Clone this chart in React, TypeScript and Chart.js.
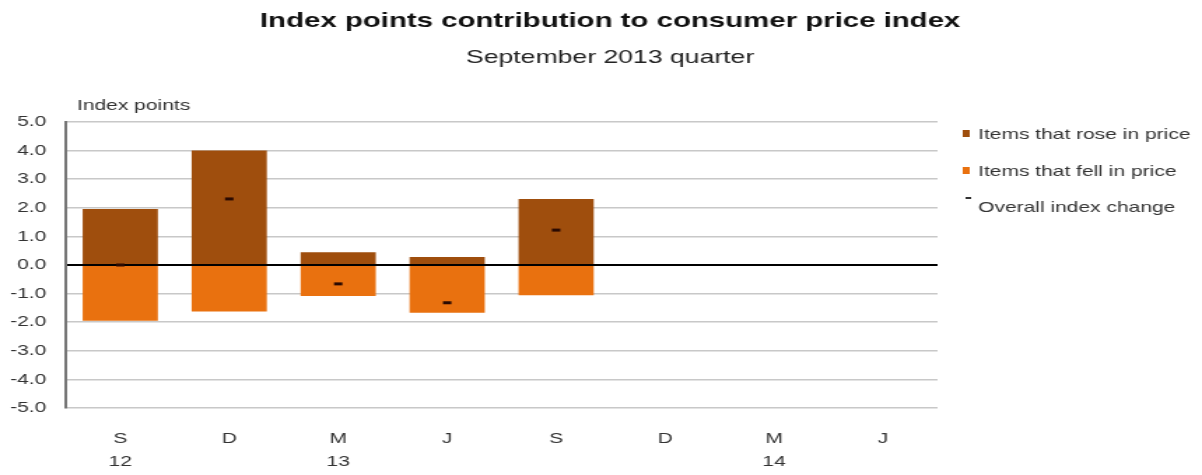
import React, { useEffect, useRef } from "react";
import { Chart, registerables } from "chart.js";

Chart.register(...registerables);

const categories: string[][] = [["S", "12"], ["D"], ["M", "13"], ["J"], ["S"], ["D"], ["M", "14"], ["J"]];
const roseValues: (number | null)[] = [1.96, 4.0, 0.45, 0.28, 2.31, null, null, null];
const fellValues: (number | null)[] = [-1.95, -1.63, -1.08, -1.67, -1.06, null, null, null];
const overallValues: (number | null)[] = [0.0, 2.31, -0.66, -1.32, 1.22, null, null, null];
const legendLabels = ["Items that rose in price", "Items that fell in price", "Overall index change"];
const titleText = "Index points contribution to consumer price index";
const subtitleText = "September 2013 quarter";
const yAxisLabel = "Index points";

const ROSE = "#9f4e0d";
const FELL = "#e9710f";
const MARK = "#2a0a02";
const FONT = "'Liberation Sans', Arial, sans-serif";

// The reference is stretched horizontally; draw narrower and stretch.
const OUT_W = 1202;
const CANVAS_W = 859;
const H = 475;
const STRETCH = OUT_W / CANVAS_W;

const decor = {
  id: "decor",
  afterDraw(chart: any) {
    const ctx = chart.ctx;
    ctx.save();
    ctx.textAlign = "center";
    ctx.textBaseline = "middle";
    ctx.fillStyle = "#111";
    ctx.font = `bold 21px ${FONT}`;
    ctx.fillText(titleText, 436, 21);
    ctx.fillStyle = "#222";
    ctx.font = `19px ${FONT}`;
    ctx.fillText(subtitleText, 436, 58);
    ctx.textAlign = "left";
    ctx.fillStyle = "#333";
    ctx.font = `15px ${FONT}`;
    ctx.fillText(yAxisLabel, 55, 106);
    // legend
    ctx.font = `15px ${FONT}`;
    const ys = [135, 172, 208];
    const sx = 688;
    const tx = 699;
    legendLabels.forEach((t, i) => {
      const y = ys[i];
      if (i === 0) {
        ctx.fillStyle = ROSE;
        ctx.fillRect(sx, y - 5, 5, 7);
      } else if (i === 1) {
        ctx.fillStyle = FELL;
        ctx.fillRect(sx, y - 5, 5, 7);
      } else {
        ctx.fillStyle = "#333";
        ctx.fillRect(sx + 2, y - 11, 4, 2);
      }
      ctx.fillStyle = "#333";
      ctx.fillText(t, tx, y);
    });
    ctx.restore();
  },
};

export default function App() {
  const ref = useRef<HTMLCanvasElement | null>(null);
  useEffect(() => {
    document.body.style.margin = "0";
    const chart = new Chart(ref.current as HTMLCanvasElement, {
      type: "bar",
      data: {
        labels: categories as any,
        datasets: [
          {
            type: "line",
            label: legendLabels[2],
            data: overallValues,
            showLine: false,
            pointStyle: "line",
            pointRadius: 3,
            pointBorderWidth: 3,
            borderColor: MARK,
            backgroundColor: MARK,
            stack: "overall",
            order: 0,
          } as any,
          {
            label: legendLabels[0],
            data: roseValues,
            backgroundColor: ROSE,
            stack: "bars",
            barPercentage: 0.69,
            categoryPercentage: 1,
            order: 1,
          },
          {
            label: legendLabels[1],
            data: fellValues,
            backgroundColor: FELL,
            stack: "bars",
            barPercentage: 0.69,
            categoryPercentage: 1,
            order: 1,
          },
        ],
      },
      options: {
        animation: false,
        responsive: false,
        layout: { padding: { top: 122, right: 189, left: 0, bottom: 0 } },
        plugins: { legend: { display: false }, tooltip: { enabled: false }, title: { display: false } },
        scales: {
          x: {
            stacked: true,
            grid: { display: false },
            border: { display: false },
            ticks: {
              color: "#333",
              font: { family: FONT, size: 15, lineHeight: 1.5 },
              padding: 12,
              maxRotation: 0,
              autoSkip: false,
            },
            afterFit(scale: any) {
              scale.height = 67;
            },
          },
          y: {
            stacked: true,
            min: -5,
            max: 5,
            grid: {
              drawTicks: false,
              color: (c: any) => (c.tick && c.tick.value === 0 ? "#000" : "#c8c8c8"),
              lineWidth: (c: any) => (c.tick && c.tick.value === 0 ? 2 : 1.5),
            },
            border: { display: true, color: "#777", width: 2 },
            ticks: {
              stepSize: 1,
              color: "#333",
              font: { family: FONT, size: 15 },
              padding: 14,
              callback: (v: any) => Number(v).toFixed(1),
            },
            afterFit(scale: any) {
              scale.width = 47;
            },
          },
        },
      },
      plugins: [decor],
    });
    return () => chart.destroy();
  }, []);
  return (
    <div style={{ width: OUT_W, height: H, overflow: "hidden" }}>
      <canvas
        ref={ref}
        width={CANVAS_W}
        height={H}
        style={{ display: "block", transform: `scaleX(${STRETCH})`, transformOrigin: "0 0" }}
      />
    </div>
  );
}
